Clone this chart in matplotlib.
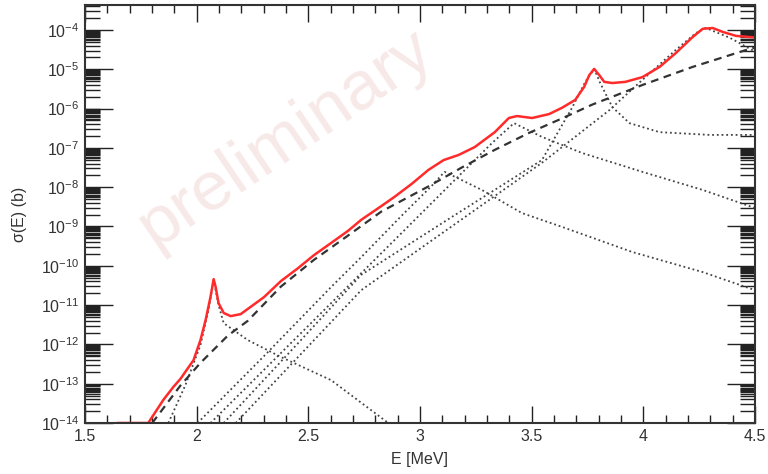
import numpy as np
import matplotlib
matplotlib.use("Agg")
import matplotlib.pyplot as plt
from matplotlib.ticker import LogLocator, FixedLocator, MultipleLocator, NullFormatter

plt.rcParams['font.family'] = ['Liberation Sans', 'DejaVu Sans']
plt.rcParams['mathtext.fontset'] = 'custom'
plt.rcParams['mathtext.rm'] = 'Liberation Sans'
plt.rcParams['mathtext.it'] = 'Liberation Sans:italic'

# total (red), log10 of sigma
total_E = [1.648, 1.783, 1.851, 1.896, 1.927, 1.986, 2.017, 2.040, 2.062, 2.076,
           2.085, 2.098, 2.121, 2.152, 2.197, 2.301, 2.377, 2.454, 2.525, 2.602,
           2.678, 2.737, 2.827, 2.885, 2.962, 3.038, 3.106, 3.173, 3.245, 3.335,
           3.398, 3.434, 3.502, 3.578, 3.636, 3.695, 3.735, 3.758, 3.780, 3.803,
           3.825, 3.861, 3.920, 3.996, 4.073, 4.145, 4.221, 4.266, 4.311, 4.356,
           4.415, 4.478, 4.500]
total_log = [-14.0, -14.0, -13.41, -13.08, -12.88, -12.40, -11.89, -11.38, -10.79, -10.34,
             -10.54, -10.95, -11.20, -11.28, -11.23, -10.80, -10.39, -10.06, -9.73, -9.42,
             -9.11, -8.83, -8.48, -8.25, -7.92, -7.56, -7.31, -7.18, -6.98, -6.60,
             -6.24, -6.19, -6.24, -6.14, -5.98, -5.78, -5.45, -5.15, -4.99, -5.15,
             -5.32, -5.35, -5.32, -5.20, -4.94, -4.59, -4.18, -3.97, -3.95, -4.05,
             -4.15, -4.18, -4.19]

# non-resonant part (dashed)
direct_E = [1.801, 1.927, 2.017, 2.139, 2.229, 2.377, 2.525, 2.678, 2.827, 3.038,
            3.187, 3.335, 3.488, 3.636, 3.771, 3.996, 4.221, 4.460, 4.500]
direct_log = [-14.0, -13.05, -12.47, -11.78, -11.40, -10.53, -9.85, -9.23, -8.62, -7.98,
              -7.50, -7.05, -6.62, -6.25, -5.90, -5.40, -4.94, -4.51, -4.45]

# single resonances (dotted)
res1_E = [1.873, 1.950, 2.017, 2.053, 2.076, 2.098, 2.121, 2.229, 2.377, 2.602, 2.858]
res1_log = [-14.0, -13.03, -12.02, -11.12, -10.36, -11.0, -11.46, -11.89, -12.32, -12.91, -14.0]

res2_E = [2.004, 2.301, 2.602, 2.737, 2.917, 3.052, 3.110, 3.187, 3.277, 3.457, 3.636,
          3.951, 4.266, 4.500]
res2_log = [-14.0, -12.30, -10.54, -9.78, -8.73, -7.97, -7.61, -7.82, -8.07, -8.66, -9.01,
            -9.65, -10.16, -10.62]

res3_E = [2.062, 2.301, 2.602, 2.917, 3.187, 3.322, 3.421, 3.546, 3.726, 3.996, 4.266, 4.500]
res3_log = [-14.0, -12.65, -10.95, -9.17, -7.64, -6.88, -6.37, -6.72, -7.13, -7.61, -8.07, -8.53]

res4_E = [2.121, 2.467, 2.737, 3.142, 3.546, 3.681, 3.740, 3.780, 3.807, 3.861, 3.938,
          4.073, 4.298, 4.500]
res4_log = [-14.0, -11.89, -10.23, -8.76, -7.31, -5.98, -5.32, -4.99, -5.35, -5.96, -6.37,
            -6.60, -6.67, -6.67]

res5_E = [2.175, 2.737, 3.546, 3.848, 3.996, 4.145, 4.235, 4.280, 4.388, 4.500]
res5_log = [-14.0, -10.62, -7.38, -6.04, -5.27, -4.51, -4.08, -3.95, -4.20, -4.55]

x_ticks = [1.5, 2, 2.5, 3, 3.5, 4, 4.5]
x_ticklabels = ['1.5', '2', '2.5', '3', '3.5', '4', '4.5']
y_exponents = list(range(-14, -3))

fig = plt.figure(figsize=(7.68, 4.74), dpi=100)
ax = fig.add_axes([0.1107, 0.1076, 0.8723, 0.8819])

ax.set_yscale('log')
ax.set_xlim(1.5, 4.5)
ax.set_ylim(1e-14, 10 ** -3.364)

dot_style = dict(color='#444444', lw=1.3, ls=(0, (1, 1.6)))
for e, lg in [(res1_E, res1_log), (res2_E, res2_log), (res3_E, res3_log),
              (res4_E, res4_log), (res5_E, res5_log)]:
    ax.plot(e, 10.0 ** np.array(lg), **dot_style)

ax.plot(direct_E, 10.0 ** np.array(direct_log), color='#333333', lw=1.6, ls=(0, (3.5, 2.5)))
ax.plot(total_E, 10.0 ** np.array(total_log), color='#ff2a2a', lw=1.8)

# watermark
ax.text(0.30, 0.68, 'preliminary', transform=ax.transAxes, rotation=34,
        ha='center', va='center', fontsize=50, color='#f8e9e9', zorder=0)

ax.xaxis.set_major_locator(FixedLocator(x_ticks))
ax.set_xticklabels(x_ticklabels)
ax.xaxis.set_minor_locator(MultipleLocator(0.1))
ax.yaxis.set_major_locator(FixedLocator([10.0 ** k for k in y_exponents]))
ax.set_yticklabels([r'$10^{%d}$' % k for k in y_exponents])
ax.yaxis.set_minor_locator(LogLocator(base=10, subs=[2, 3, 4, 5, 5.5, 6, 6.5, 7, 7.5, 8, 8.5, 9, 9.5], numticks=40))
ax.yaxis.set_minor_formatter(NullFormatter())

ax.tick_params(which='both', direction='in', top=True, right=True, colors='#222222',
               labelcolor='#333333', labelsize=11.5, width=1)
ax.tick_params(axis='x', which='major', length=12, pad=4)
ax.tick_params(axis='x', which='minor', length=6)
ax.tick_params(axis='y', which='major', length=20, pad=4)
ax.tick_params(axis='y', which='minor', length=11)
for s in ax.spines.values():
    s.set_linewidth(1.5)
    s.set_color('#333333')

ax.set_xlabel('E [MeV]', fontsize=11.5, color='#333333', labelpad=6)
ax.set_ylabel('σ(E) (b)', fontsize=11.5, color='#333333', labelpad=10)

fig.savefig('out.png', dpi=100)
